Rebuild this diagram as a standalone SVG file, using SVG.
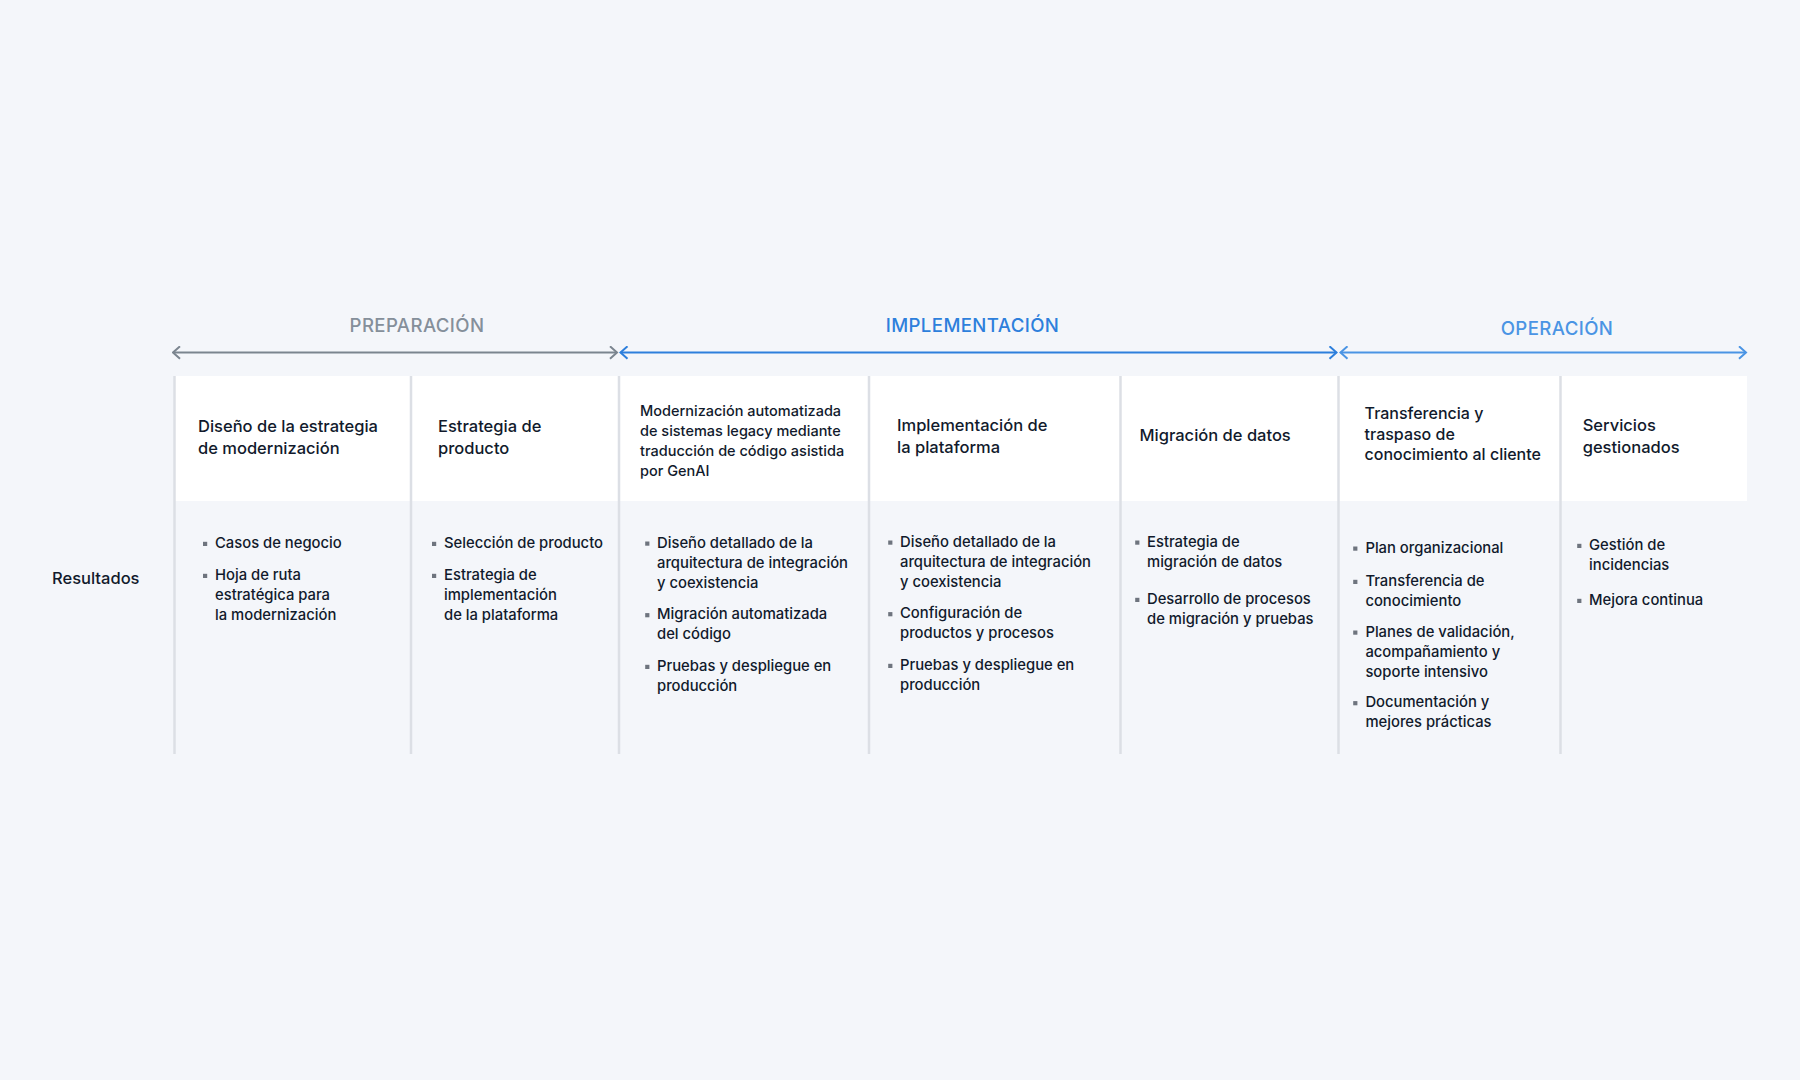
<svg xmlns="http://www.w3.org/2000/svg" width="1800" height="1080" viewBox="0 0 1800 1080">
<style>
.bg{fill:#f4f6fa}
.hdr{fill:#ffffff}
.div{stroke:#dcdfe5;stroke-width:2.5}
.ph{font-family:Inter,"Liberation Sans",sans-serif;font-size:18.6px;font-weight:500;letter-spacing:0.4px;text-anchor:middle}
.h{font-family:Inter,"Liberation Sans",sans-serif;font-size:16.5px;font-weight:500;fill:#111a2c}
.h6{font-family:Inter,"Liberation Sans",sans-serif;font-size:16px;font-weight:500;fill:#111a2c}
.hs{font-family:Inter,"Liberation Sans",sans-serif;font-size:14.5px;font-weight:500;fill:#111a2c}
.b{font-family:Inter,"Liberation Sans",sans-serif;font-size:14.8px;font-weight:500;fill:#111a2c}
.dot{fill:#6e747e}
</style>
<defs>
<marker id="ag" viewBox="0 0 10 14" refX="8.5" refY="7" markerWidth="10" markerHeight="14" markerUnits="userSpaceOnUse" orient="auto-start-reverse"><path d="M1.5,0.8 L8.5,7 L1.5,13.2" fill="none" stroke="#7b858f" stroke-width="2"/></marker>
<marker id="ab" viewBox="0 0 10 14" refX="8.5" refY="7" markerWidth="10" markerHeight="14" markerUnits="userSpaceOnUse" orient="auto-start-reverse"><path d="M1.5,0.8 L8.5,7 L1.5,13.2" fill="none" stroke="#2d7fdc" stroke-width="2"/></marker>
<marker id="al" viewBox="0 0 10 14" refX="8.5" refY="7" markerWidth="10" markerHeight="14" markerUnits="userSpaceOnUse" orient="auto-start-reverse"><path d="M1.5,0.8 L8.5,7 L1.5,13.2" fill="none" stroke="#4a94e4" stroke-width="2"/></marker>
</defs>
<rect class="bg" x="0" y="0" width="1800" height="1080"/>

<g id="phases">
<text class="ph" x="417" y="332" fill="#858f9a">PREPARACIÓN</text>
<text class="ph" x="972.5" y="332.3" fill="#2d7fdc">IMPLEMENTACIÓN</text>
<text class="ph" x="1557" y="335" fill="#4a94e4">OPERACIÓN</text>
</g>

<g id="connectors" fill="none" stroke-width="2">
<line x1="173" y1="352.5" x2="617" y2="352.5" stroke="#7b858f" marker-start="url(#ag)" marker-end="url(#ag)"/>
<line x1="620.5" y1="352.5" x2="1336.5" y2="352.5" stroke="#2d7fdc" marker-start="url(#ab)" marker-end="url(#ab)"/>
<line x1="1340.5" y1="352.5" x2="1746" y2="352.5" stroke="#4a94e4" marker-start="url(#al)" marker-end="url(#al)"/>
</g>

<rect class="hdr" x="175" y="376" width="1572" height="125"/>

<g id="dividers">
<line class="div" x1="174.5" y1="376" x2="174.5" y2="754"/>
<line class="div" x1="411" y1="376" x2="411" y2="754"/>
<line class="div" x1="619" y1="376" x2="619" y2="754"/>
<line class="div" x1="869" y1="376" x2="869" y2="754"/>
<line class="div" x1="1120.5" y1="376" x2="1120.5" y2="754"/>
<line class="div" x1="1338.5" y1="376" x2="1338.5" y2="754"/>
<line class="div" x1="1560.5" y1="376" x2="1560.5" y2="754"/>
</g>

<g id="row-label">
<text class="h" x="52" y="584">Resultados</text>
</g>

<g id="col1">
<text class="h" x="198" y="431.7">Diseño de la estrategia</text>
<text class="h" x="198" y="453.5">de modernización</text>
<rect class="dot" x="203" y="541.8" width="4.2" height="4.2"/>
<text class="b" x="215" y="548">Casos de negocio</text>
<rect class="dot" x="203" y="573.8" width="4.2" height="4.2"/>
<text class="b" x="215" y="580">Hoja de ruta</text>
<text class="b" x="215" y="600">estratégica para</text>
<text class="b" x="215" y="620">la modernización</text>
</g>

<g id="col2">
<text class="h" x="438" y="431.7">Estrategia de</text>
<text class="h" x="438" y="453.5">producto</text>
<rect class="dot" x="432" y="541.8" width="4.2" height="4.2"/>
<text class="b" x="444" y="548">Selección de producto</text>
<rect class="dot" x="432" y="573.8" width="4.2" height="4.2"/>
<text class="b" x="444" y="580">Estrategia de</text>
<text class="b" x="444" y="600">implementación</text>
<text class="b" x="444" y="620">de la plataforma</text>
</g>

<g id="col3">
<text class="hs" x="640" y="416">Modernización automatizada</text>
<text class="hs" x="640" y="436">de sistemas legacy mediante</text>
<text class="hs" x="640" y="456">traducción de código asistida</text>
<text class="hs" x="640" y="476">por GenAI</text>
<rect class="dot" x="645.2" y="541.5" width="4.2" height="4.2"/>
<text class="b" x="657" y="547.7">Diseño detallado de la</text>
<text class="b" x="657" y="567.7">arquitectura de integración</text>
<text class="b" x="657" y="587.7">y coexistencia</text>
<rect class="dot" x="645.2" y="613.1" width="4.2" height="4.2"/>
<text class="b" x="657" y="619.3">Migración automatizada</text>
<text class="b" x="657" y="639.3">del código</text>
<rect class="dot" x="645.2" y="664.8" width="4.2" height="4.2"/>
<text class="b" x="657" y="671">Pruebas y despliegue en</text>
<text class="b" x="657" y="691">producción</text>
</g>

<g id="col4">
<text class="h" x="897" y="430.7">Implementación de</text>
<text class="h" x="897" y="453.3">la plataforma</text>
<rect class="dot" x="888.2" y="540.5" width="4.2" height="4.2"/>
<text class="b" x="900" y="546.7">Diseño detallado de la</text>
<text class="b" x="900" y="566.7">arquitectura de integración</text>
<text class="b" x="900" y="586.7">y coexistencia</text>
<rect class="dot" x="888.2" y="612.1" width="4.2" height="4.2"/>
<text class="b" x="900" y="618.3">Configuración de</text>
<text class="b" x="900" y="638.3">productos y procesos</text>
<rect class="dot" x="888.2" y="663.8" width="4.2" height="4.2"/>
<text class="b" x="900" y="670">Pruebas y despliegue en</text>
<text class="b" x="900" y="690">producción</text>
</g>

<g id="col5">
<text class="h" x="1139.5" y="441">Migración de datos</text>
<rect class="dot" x="1135.2" y="540.5" width="4.2" height="4.2"/>
<text class="b" x="1147" y="546.7">Estrategia de</text>
<text class="b" x="1147" y="566.7">migración de datos</text>
<rect class="dot" x="1135.2" y="597.8" width="4.2" height="4.2"/>
<text class="b" x="1147" y="604">Desarrollo de procesos</text>
<text class="b" x="1147" y="624">de migración y pruebas</text>
</g>

<g id="col6">
<text class="h6" x="1364.6" y="419">Transferencia y</text>
<text class="h6" x="1364.6" y="439.7">traspaso de</text>
<text class="h6" x="1364.6" y="460.3">conocimiento al cliente</text>
<rect class="dot" x="1353.2" y="546.5" width="4.2" height="4.2"/>
<text class="b" x="1365.4" y="552.7">Plan organizacional</text>
<rect class="dot" x="1353.2" y="579.8" width="4.2" height="4.2"/>
<text class="b" x="1365.4" y="586">Transferencia de</text>
<text class="b" x="1365.4" y="606">conocimiento</text>
<rect class="dot" x="1353.2" y="630.5" width="4.2" height="4.2"/>
<text class="b" x="1365.4" y="636.7">Planes de validación,</text>
<text class="b" x="1365.4" y="656.7">acompañamiento y</text>
<text class="b" x="1365.4" y="676.7">soporte intensivo</text>
<rect class="dot" x="1353.2" y="701.1" width="4.2" height="4.2"/>
<text class="b" x="1365.4" y="707.3">Documentación y</text>
<text class="b" x="1365.4" y="727.3">mejores prácticas</text>
</g>

<g id="col7">
<text class="h" x="1582.7" y="430.7">Servicios</text>
<text class="h" x="1582.7" y="453.3">gestionados</text>
<rect class="dot" x="1577.2" y="543.8" width="4.2" height="4.2"/>
<text class="b" x="1589" y="550">Gestión de</text>
<text class="b" x="1589" y="570">incidencias</text>
<rect class="dot" x="1577.2" y="598.8" width="4.2" height="4.2"/>
<text class="b" x="1589" y="605">Mejora continua</text>
</g>
</svg>
